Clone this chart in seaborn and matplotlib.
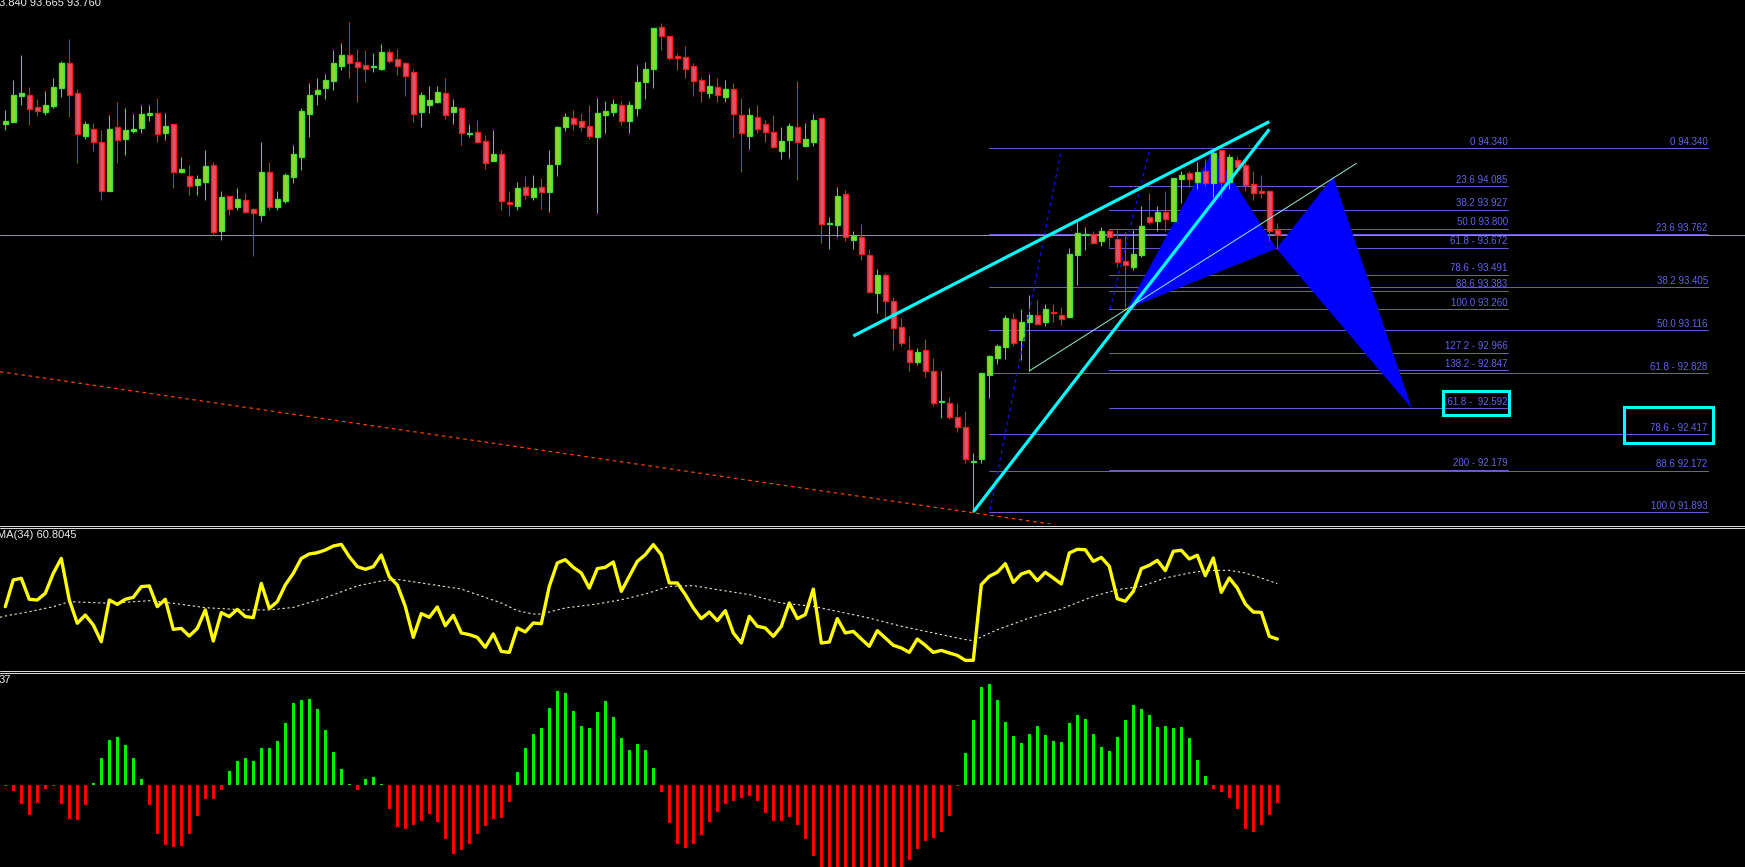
import numpy as np
import pandas as pd
import matplotlib
matplotlib.use("Agg")
import matplotlib.pyplot as plt
from matplotlib.lines import Line2D
from matplotlib.patches import Polygon, Rectangle
import seaborn as sns

# ---- candles (bar index 0..159) ----
opens = [94.506, 94.519, 94.694, 94.698, 94.618, 94.586, 94.624, 94.745, 94.913, 94.712,
         94.423, 94.470, 94.382, 94.053, 94.483, 94.405, 94.459, 94.479, 94.566, 94.577,
         94.445, 94.503, 94.183, 94.154, 94.095, 94.116, 94.228, 93.786, 94.019, 93.948,
         93.992, 93.932, 93.894, 94.181, 93.948, 93.988, 94.149, 94.284, 94.573, 94.707,
         94.748, 94.795, 94.896, 94.967, 94.920, 94.900, 94.889, 94.875, 94.987, 94.938,
         94.913, 94.853, 94.586, 94.633, 94.653, 94.712, 94.586, 94.611, 94.438, 94.450,
         94.389, 94.257, 94.302, 93.981, 93.954, 94.080, 94.015, 94.080, 94.048, 94.237,
         94.485, 94.544, 94.524, 94.490, 94.418, 94.566, 94.586, 94.631, 94.526, 94.613,
         94.788, 94.875, 95.155, 95.095, 94.961, 94.954, 94.893, 94.799, 94.714, 94.752,
         94.687, 94.738, 94.561, 94.425, 94.550, 94.503, 94.447, 94.319, 94.398, 94.481,
         94.358, 94.384, 94.541, 93.831, 93.826, 94.030, 93.726, 93.741, 93.620, 93.369,
         93.486, 93.311, 93.136, 92.982, 92.905, 92.982, 92.840, 92.634, 92.625, 92.536,
         92.468, 92.233, 92.249, 92.818, 92.928, 93.006, 93.190, 93.053, 93.174, 93.217,
         93.170, 93.237, 93.217, 93.208, 93.625, 93.759, 93.766, 93.719, 93.782, 93.730,
         93.580, 93.544, 93.625, 93.876, 93.853, 93.911, 93.853, 94.136, 94.174, 94.113,
         94.187, 94.109, 94.326, 94.111, 94.261, 94.225, 94.100, 94.053, 94.050, 93.793]
highs = [94.597, 94.799, 94.967, 94.750, 94.671, 94.725, 94.810, 94.927, 95.075, 94.739,
         94.524, 94.510, 94.463, 94.564, 94.651, 94.613, 94.571, 94.631, 94.631, 94.678,
         94.577, 94.506, 94.281, 94.228, 94.160, 94.329, 94.248, 94.053, 94.022, 94.073,
         94.039, 93.939, 94.382, 94.248, 94.053, 94.174, 94.362, 94.611, 94.779, 94.813,
         94.839, 95.001, 95.048, 95.189, 95.008, 95.001, 94.981, 95.041, 95.008, 95.008,
         94.920, 94.873, 94.718, 94.759, 94.759, 94.813, 94.671, 94.618, 94.503, 94.530,
         94.429, 94.463, 94.329, 94.053, 94.113, 94.154, 94.160, 94.140, 94.329, 94.490,
         94.577, 94.597, 94.577, 94.631, 94.678, 94.658, 94.671, 94.658, 94.658, 94.900,
         94.920, 95.152, 95.182, 95.097, 94.981, 95.028, 94.913, 94.819, 94.839, 94.815,
         94.800, 94.777, 94.678, 94.611, 94.631, 94.530, 94.564, 94.483, 94.510, 94.792,
         94.510, 94.570, 94.545, 93.878, 94.080, 94.059, 93.784, 93.831, 93.663, 93.528,
         93.504, 93.338, 93.199, 93.078, 92.997, 93.056, 92.930, 92.843, 92.666, 92.630,
         92.574, 92.289, 92.831, 92.948, 93.026, 93.219, 93.230, 93.259, 93.351, 93.320,
         93.293, 93.293, 93.273, 93.667, 93.846, 93.813, 93.786, 93.813, 93.799, 93.790,
         93.779, 93.790, 93.952, 94.039, 93.952, 94.055, 94.140, 94.189, 94.189, 94.250,
         94.268, 94.322, 94.335, 94.301, 94.290, 94.270, 94.187, 94.162, 94.059, 93.840]
lows = [94.463, 94.515, 94.631, 94.497, 94.559, 94.564, 94.613, 94.685, 94.553, 94.241,
        94.405, 94.322, 93.992, 94.050, 94.241, 94.295, 94.445, 94.445, 94.526, 94.385,
        94.398, 94.075, 94.176, 94.026, 94.028, 93.995, 93.759, 93.726, 93.894, 93.927,
        93.907, 93.616, 93.853, 93.927, 93.927, 93.974, 94.109, 94.196, 94.418, 94.633,
        94.674, 94.734, 94.869, 94.815, 94.653, 94.788, 94.855, 94.869, 94.916, 94.835,
        94.692, 94.517, 94.485, 94.580, 94.647, 94.539, 94.506, 94.364, 94.418, 94.378,
        94.203, 94.255, 93.927, 93.887, 93.927, 94.001, 93.995, 93.934, 93.914, 94.156,
        94.459, 94.465, 94.459, 94.405, 93.907, 94.445, 94.559, 94.499, 94.445, 94.559,
        94.674, 94.748, 95.003, 94.934, 94.869, 94.815, 94.694, 94.653, 94.680, 94.653,
        94.653, 94.418, 94.183, 94.337, 94.440, 94.384, 94.343, 94.270, 94.277, 94.129,
        94.355, 94.358, 93.705, 93.665, 93.746, 93.719, 93.665, 93.591, 93.368, 93.235,
        93.181, 92.986, 93.013, 92.845, 92.885, 92.800, 92.605, 92.529, 92.518, 92.435,
        92.226, 91.895, 92.226, 92.663, 92.887, 92.926, 93.013, 92.919, 92.843, 93.150,
        93.148, 93.174, 93.152, 93.205, 93.423, 93.658, 93.701, 93.685, 93.678, 93.544,
        93.253, 93.524, 93.607, 93.833, 93.786, 93.786, 93.853, 93.970, 94.077, 94.068,
        94.089, 94.015, 94.015, 94.068, 94.194, 94.055, 93.992, 94.008, 93.719, 93.665]
closes = [94.524, 94.698, 94.712, 94.604, 94.593, 94.631, 94.752, 94.913, 94.698, 94.438,
          94.503, 94.385, 94.053, 94.470, 94.398, 94.463, 94.470, 94.571, 94.577, 94.438,
          94.490, 94.183, 94.201, 94.089, 94.134, 94.221, 93.779, 94.013, 93.932, 93.999,
          93.914, 93.907, 94.181, 93.948, 93.999, 94.160, 94.302, 94.591, 94.698, 94.732,
          94.799, 94.913, 94.967, 94.916, 94.889, 94.875, 94.893, 94.987, 94.929, 94.896,
          94.828, 94.573, 94.698, 94.665, 94.718, 94.566, 94.618, 94.445, 94.445, 94.385,
          94.243, 94.302, 93.988, 93.968, 94.073, 94.028, 94.073, 94.048, 94.228, 94.483,
          94.550, 94.506, 94.485, 94.425, 94.577, 94.591, 94.638, 94.526, 94.631, 94.786,
          94.873, 95.149, 95.097, 94.949, 94.949, 94.875, 94.795, 94.727, 94.759, 94.696,
          94.738, 94.568, 94.440, 94.564, 94.467, 94.447, 94.346, 94.389, 94.490, 94.380,
          94.400, 94.530, 93.829, 93.835, 94.019, 93.741, 93.752, 93.627, 93.371, 93.486,
          93.315, 93.129, 93.029, 92.901, 92.968, 92.840, 92.625, 92.643, 92.536, 92.468,
          92.249, 92.240, 92.829, 92.941, 93.013, 93.197, 93.033, 93.170, 93.217, 93.156,
          93.257, 93.230, 93.194, 93.627, 93.768, 93.766, 93.705, 93.782, 93.741, 93.578,
          93.557, 93.627, 93.815, 93.846, 93.911, 93.867, 94.140, 94.158, 94.131, 94.180,
          94.109, 94.308, 94.115, 94.279, 94.216, 94.095, 94.037, 94.037, 93.786, 93.760]

# ---- oscillator line (0-100) and its moving average ----
rsi = [44.6, 63.4, 64.6, 49.8, 49.3, 54.0, 68.1, 78.6, 49.3, 32.9,
       38.7, 31.7, 19.9, 49.3, 46.2, 49.8, 51.2, 58.7, 59.2, 44.6,
       49.8, 28.6, 29.3, 23.9, 29.3, 42.3, 20.4, 40.4, 37.6, 42.7,
       37.6, 36.9, 61.0, 43.4, 48.1, 59.9, 68.1, 78.6, 81.7, 82.6,
       84.5, 87.3, 88.5, 79.8, 72.8, 70.9, 72.8, 81.0, 65.7, 59.9,
       44.8, 23.0, 39.7, 37.1, 44.4, 31.2, 38.5, 26.1, 24.9, 23.0,
       16.0, 25.4, 13.1, 12.4, 29.6, 26.8, 33.1, 32.6, 58.9, 75.4,
       77.7, 72.3, 68.3, 57.7, 71.4, 72.3, 76.1, 55.4, 66.0, 76.5,
       81.2, 88.3, 81.2, 61.3, 61.3, 53.1, 43.7, 36.2, 40.8, 34.7,
       41.8, 26.1, 19.0, 37.8, 30.8, 29.6, 23.7, 30.8, 47.2, 36.2,
       39.0, 57.0, 19.0, 19.7, 36.2, 26.1, 27.2, 21.8, 16.7, 27.7,
       22.5, 17.4, 15.5, 12.4, 21.8, 17.4, 12.4, 13.8, 12.0, 10.3,
       6.8, 6.8, 60.1, 66.0, 68.8, 74.9, 61.7, 67.6, 69.5, 62.9,
       68.8, 64.8, 60.6, 82.4, 85.0, 84.7, 76.5, 79.3, 73.0, 50.2,
       48.4, 55.4, 71.4, 73.7, 77.2, 70.0, 83.6, 84.3, 78.2, 80.8,
       66.4, 78.9, 54.7, 64.8, 57.7, 46.5, 40.8, 40.6, 23.7, 21.8]
ma_bars = [-0.66, 0, 3, 6, 8, 13, 18, 21, 25, 30, 33, 36, 40, 44, 47, 49, 52, 57, 62, 64,
           66, 67, 70, 74, 77, 80, 83, 86, 89, 93, 97, 101, 104, 108, 112, 116, 120, 121,
           124, 128, 132, 136, 139, 142, 145, 148, 150, 153, 155, 157, 159]
ma_vals = [37.1, 38.0, 41.1, 44.6, 48.1, 47.0, 48.8, 47.0, 43.9, 42.3, 42.3, 44.1, 50.9,
           59.2, 62.7, 63.8, 61.3, 57.0, 47.2, 41.8, 39.4, 39.4, 43.7, 46.5, 49.5, 53.5,
           58.9, 59.4, 56.6, 53.1, 47.2, 44.8, 41.3, 36.6, 30.8, 26.1, 21.4, 20.7, 28.4,
           36.6, 43.0, 51.9, 56.6, 58.9, 64.8, 68.3, 70.0, 70.2, 68.3, 64.8, 60.8]

# ---- histogram oscillator ----
hist = [-0.5, -5.7, -18.7, -29.7, -17.7, -3.7, -0.5, -18.7, -33.7, -34.7,
        -19.7, 2, 27, 45, 48, 40, 27, 6, -19.7, -48.7,
        -59.7, -61.7, -60.7, -48.7, -30.7, -13.7, -13.7, -4.7, 14, 24,
        27, 24, 37, 37, 44, 62, 82, 85, 86, 76,
        55, 33, 16, 1, -4.7, 6, 8, 1, -23.7, -41.7,
        -44, -39.7, -35.7, -28.7, -36.7, -53.7, -68.7, -64.7, -58.7, -48.7,
        -40.7, -33.7, -32.7, -16.7, 13, 37, 51, 57, 77, 94,
        92, 74, 59, 57, 73, 84, 68, 47, 35, 41,
        35, 17, -6.7, -37.7, -58.7, -62.7, -58.7, -49.7, -36.7, -26.7,
        -18.7, -15.7, -12.7, -10.7, -15.7, -27.7, -35.7, -35.7, -31.7, -39.7,
        -53.7, -70.7, -85, -92, -98, -102, -105, -106, -105, -102,
        -98, -92, -86, -74.7, -63.7, -55.7, -52.7, -46.7, -30.7, -0.5,
        32, 65, 98, 101, 85, 63, 49, 42, 51, 59,
        50, 44, 43, 62, 70, 66, 51, 38, 34, 48,
        65, 80, 76, 70, 58, 59, 57, 58, 47, 25,
        9, -4, -6.7, -12.7, -23.7, -43.7, -46.7, -39.7, -29.7, -17.7]

# ---- fibonacci objects ----
fib1_levels = [94.340, 94.085, 93.927, 93.800, 93.672, 93.491, 93.383, 93.260,
               92.966, 92.847, 92.592, 92.179]
fib1_labels = ["0 94.340", "23.6 94.085", "38.2 93.927", "50.0 93.800", "61.8 - 93.672",
               "78.6 - 93.491", "88.6 93.383", "100.0 93.260", "127.2 - 92.966",
               "138.2 - 92.847", "161.8 -  92.592", "200 - 92.179"]
fib1_span = (137.96, 187.8)
fib2_levels = [94.340, 93.762, 93.405, 93.116, 92.828, 92.417, 92.172, 91.893]
fib2_labels = ["0 94.340", "23.6 93.762", "38.2 93.405", "50.0 93.116", "61.8 - 92.828",
               "78.6 - 92.417", "88.6 92.172", "100.0 91.893"]
fib2_span = (122.96, 212.8)
bid = 93.760

# harmonic pattern points X, A, B, C, D as (bar, price)
pat_x = [140.2, 151.0, 158.9, 166.0, 175.8]
pat_y = [93.260, 94.330, 93.665, 94.150, 92.592]

# trend lines (bar, price) pairs
cyan_lines = [((106.0, 93.078), (158.0, 94.519)), ((121.0, 91.895), (158.0, 94.468))]
thin_line = ((128.0, 92.843), (168.9, 94.239))
blue_dash = [((123.1, 91.908), (132.0, 94.329)), ((138.1, 93.260), (143.0, 94.322))]
red_dash = ((-0.66, 92.838), (135.0, 91.780))
boxes = [(179.7, 92.547, 187.96, 92.710), (202.3, 92.361, 213.5, 92.603)]

W, H = 1745, 867
sns.set_style("dark", {"axes.facecolor": "black", "figure.facecolor": "black"})
plt.rcParams["font.family"] = ["Liberation Sans", "DejaVu Sans"]

fig = plt.figure(figsize=(W / 100, H / 100), dpi=100, facecolor="black")

def rect(top, bottom):
    return [0, 1 - bottom / H, 1, (bottom - top) / H]

ax = fig.add_axes(rect(0, 524))
ax_rsi = fig.add_axes(rect(528, 670))
ax_h = fig.add_axes(rect(673, 867))
xlim = (-0.66, 217.46)
for a in (ax, ax_rsi, ax_h):
    a.set_facecolor("black")
    a.set_xlim(*xlim)
    a.set_axis_off()

px = 0.72  # one pixel in points

# main price panel
df = pd.DataFrame({"o": opens, "h": highs, "l": lows, "c": closes})
df["i"] = np.arange(len(df))
up = df["c"] >= df["o"]
ax.set_ylim(91.814, 95.337)

ax.axhline(bid, color="#8A93A6", lw=px, zorder=1)
for lv in fib2_levels:
    ax.plot(fib2_span, [lv, lv], color="#6A5ACD", lw=px, zorder=1.5)
for lv in fib1_levels:
    ax.plot(fib1_span, [lv, lv], color="#6A5ACD", lw=px, zorder=1.5)
for lv, lb in zip(fib1_levels, fib1_labels):
    ax.annotate(lb, (fib1_span[1], lv), xytext=(0, 1), textcoords="offset points",
                ha="right", va="bottom", color="#6262F0", fontsize=7.0)
for lv, lb in zip(fib2_levels, fib2_labels):
    ax.annotate(lb, (fib2_span[1], lv), xytext=(0, 1), textcoords="offset points",
                ha="right", va="bottom", color="#6262F0", fontsize=7.0)

ax.add_patch(Polygon(list(zip(pat_x[:3], pat_y[:3])), closed=True, color="#0000FF", lw=0, zorder=2))
ax.add_patch(Polygon(list(zip(pat_x[2:], pat_y[2:])), closed=True, color="#0000FF", lw=0, zorder=2))

wick_col = np.where(up, "#3CE63C", "#FF1A1A")
ax.vlines(df["i"], df["l"], df["h"], colors=wick_col, lw=px, zorder=3)
body_lo = np.minimum(df["o"], df["c"])
body_h = np.maximum(np.abs(df["c"] - df["o"]), 0.006)
ax.bar(df["i"], body_h, bottom=body_lo, width=0.56,
       color=np.where(up, "#86DC2C", "#E2506C"),
       edgecolor=np.where(up, "#3CE63C", "#FF1A1A"), linewidth=px * 1.3, zorder=3.5)

for (x0, y0), (x1, y1) in cyan_lines:
    ax.plot([x0, x1], [y0, y1], color="#00FFFF", lw=2.3, zorder=5, solid_capstyle="butt")
ax.plot([thin_line[0][0], thin_line[1][0]], [thin_line[0][1], thin_line[1][1]],
        color="#8FE8D6", lw=px, zorder=5)
for (x0, y0), (x1, y1) in blue_dash:
    ax.plot([x0, x1], [y0, y1], color="#1010FF", lw=px * 1.2, ls=(0, (3, 3)), zorder=4)
ax.plot([red_dash[0][0], red_dash[1][0]], [red_dash[0][1], red_dash[1][1]],
        color="#FF4500", lw=px * 1.2, ls=(0, (3, 3)), zorder=4)
for x0, y0, x1, y1 in boxes:
    ax.add_patch(Rectangle((x0, y0), x1 - x0, y1 - y0, fill=False, edgecolor="#00FFFF",
                           lw=2.2, zorder=6))

# oscillator panel
ax_rsi.set_ylim(0, 100)
osc = pd.DataFrame({"bar": np.arange(len(rsi)), "rsi": rsi})
sns.lineplot(data=osc, x="bar", y="rsi", ax=ax_rsi, color="#FFFF00", lw=2.4, zorder=3)
sns.lineplot(x=ma_bars, y=ma_vals, ax=ax_rsi, color="#F5E6D0", lw=0.8, ls=(0, (2, 2.5)), zorder=2)
ax_rsi.set_xlim(*xlim)
ax_rsi.set_axis_off()

# histogram panel
ax_h.set_ylim(-82, 112)
hv = np.array(hist)
ax_h.bar(np.arange(len(hv)), hv, width=0.38, color=np.where(hv >= 0, "#00F000", "#FF0000"),
         linewidth=0)
ax_h.set_xlim(*xlim)

# panel separators
for y in (525.5, 527.5, 670.5, 672.5):
    fig.add_artist(Line2D([0, 1], [1 - y / H] * 2, transform=fig.transFigure,
                          color="#D8D8D8", lw=px))

# corner read-outs
corner = dict(color="#EDEDED", fontsize=8, va="top",
              family=["Liberation Sans Narrow", "Liberation Sans", "DejaVu Sans"])
fig.text(-1 / W, 1 + 2 / H, "3.840 93.665 93.760", **corner)
fig.text(-3 / W, 1 - 530 / H, "MA(34) 60.8045", **corner)
fig.text(-1 / W, 1 - 675 / H, "37", **corner)

fig.savefig("out.png", dpi=100, facecolor="black")
